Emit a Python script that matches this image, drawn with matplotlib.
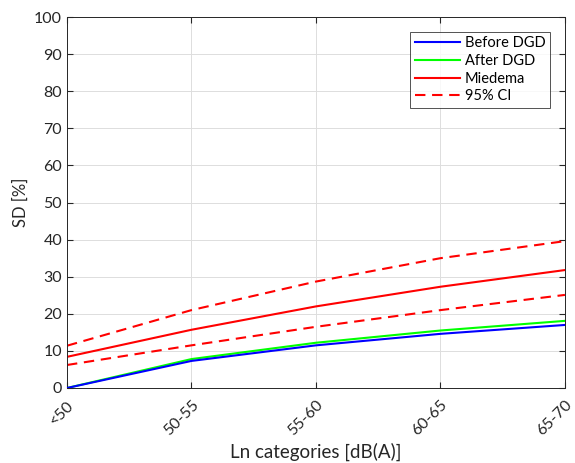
import matplotlib
matplotlib.use("Agg")
import matplotlib.pyplot as plt
import matplotlib.transforms as mtransforms

categories = ["<50", "50-55", "55-60", "60-65", "65-70"]
before_dgd = [0, 7.3, 11.5, 14.6, 17.0]
after_dgd = [0, 7.8, 12.2, 15.5, 18.1]
miedema = [8.4, 15.7, 22.0, 27.3, 31.8]
ci_upper = [11.4, 21.0, 28.7, 35.0, 39.6]
ci_lower = [6.2, 11.5, 16.5, 21.0, 25.1]

plt.rcParams['font.family'] = ['Lato', 'DejaVu Sans']
txt = '#262626'

fig = plt.figure(figsize=(5.75, 4.63), dpi=100)
ax = fig.add_axes([0.1165, 0.162, 0.866, 0.801])
x = list(range(len(categories)))
dash = (0, (5, 3.2))

ax.plot(x, before_dgd, color='#0000ff', lw=1.5, label='Before DGD', zorder=3)
ax.plot(x, after_dgd, color='#00ff00', lw=1.5, label='After DGD', zorder=2)
ax.plot(x, miedema, color='#ff0000', lw=1.5, label='Miedema')
ax.plot(x, ci_upper, color='#ff0000', lw=1.5, ls=dash, label='95% CI')
ax.plot(x, ci_lower, color='#ff0000', lw=1.5, ls=dash)

ax.set_xlim(0, 4)
ax.set_ylim(0, 100)
ax.set_yticks(range(0, 101, 10))
ax.set_xticks(x)
ax.set_xticklabels(categories, rotation=45, ha='right', va='center', rotation_mode='anchor')
ax.tick_params(axis='both', direction='in', labelsize=11.5, color=txt, labelcolor=txt,
               top=True, right=True, length=4)
ax.tick_params(axis='x', pad=0)
offset = mtransforms.ScaledTranslation(5 / 100, -15 / 100, fig.dpi_scale_trans)
for lab in ax.get_xticklabels():
    lab.set_transform(lab.get_transform() + offset)
ax.grid(True, color='#dddddd', lw=0.7)
ax.set_axisbelow(True)
for s in ax.spines.values():
    s.set_color(txt)
    s.set_linewidth(0.7)
ax.set_xlabel('Ln categories [dB(A)]', fontsize=13.5, color=txt)
ax.xaxis.set_label_coords(0.5, -0.148)
ax.set_ylabel('SD [%]', fontsize=12, color=txt)

leg = ax.legend(loc='upper right', bbox_to_anchor=(0.97, 0.96), fontsize=10.5, frameon=True, fancybox=False,
                edgecolor=txt, handlelength=3.1, borderpad=0.3, labelspacing=0.25, handletextpad=0.35,
                borderaxespad=0)
leg.get_frame().set_linewidth(0.7)

fig.savefig('out.png', dpi=100)
